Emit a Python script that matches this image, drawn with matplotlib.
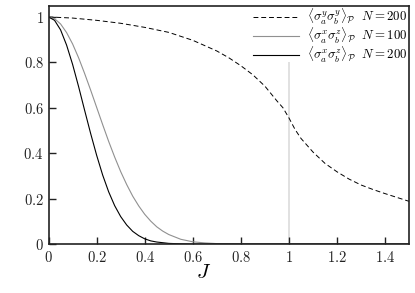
import numpy as np
import matplotlib
matplotlib.use("Agg")
import matplotlib.pyplot as plt
from matplotlib.ticker import FuncFormatter

plt.rcParams["mathtext.fontset"] = "cm"
plt.rcParams["font.family"] = "serif"
plt.rcParams["font.serif"] = ["DejaVu Serif"]

# <sigma^y sigma^y>, N = 200 (dashed)
J_yy = [0.0, 0.1, 0.2, 0.3, 0.4, 0.5, 0.6, 0.7, 0.75, 0.8, 0.85, 0.9, 0.95,
        0.975, 1.0, 1.025, 1.05, 1.1, 1.15, 1.2, 1.25, 1.3, 1.35, 1.4, 1.45, 1.5]
yy_200 = [1.0, 0.995, 0.985, 0.972, 0.954, 0.932, 0.897, 0.850, 0.82, 0.785,
          0.745, 0.695, 0.63, 0.60, 0.555, 0.505, 0.465, 0.405, 0.355, 0.318,
          0.286, 0.26, 0.24, 0.222, 0.205, 0.188]

# <sigma^x sigma^z>, N = 100 (grey)
J_100 = [0.0, 0.025, 0.05, 0.075, 0.1, 0.125, 0.15, 0.175, 0.2, 0.225, 0.25,
         0.275, 0.3, 0.325, 0.35, 0.375, 0.4, 0.425, 0.45, 0.475, 0.5, 0.55,
         0.6, 0.65, 0.7, 0.8, 1.0, 1.5]
xz_100 = [1.0, 0.992, 0.969, 0.931, 0.881, 0.820, 0.751, 0.678, 0.602, 0.526,
          0.452, 0.383, 0.319, 0.262, 0.211, 0.168, 0.131, 0.101, 0.076, 0.057,
          0.042, 0.021, 0.010, 0.005, 0.002, 0.0, 0.0, 0.0]

# <sigma^x sigma^z>, N = 200 (black)
J_200 = [0.0, 0.025, 0.05, 0.075, 0.1, 0.125, 0.15, 0.175, 0.2, 0.225, 0.25,
         0.275, 0.3, 0.325, 0.35, 0.375, 0.4, 0.425, 0.45, 0.5, 0.55, 0.6,
         1.0, 1.5]
xz_200 = [1.0, 0.985, 0.943, 0.876, 0.791, 0.693, 0.589, 0.487, 0.391, 0.304,
          0.230, 0.169, 0.121, 0.084, 0.056, 0.037, 0.023, 0.014, 0.009, 0.003,
          0.001, 0.0, 0.0, 0.0]

vline_x = 1.0
vline_top = 0.8

fig = plt.figure(figsize=(4.15, 2.93), dpi=100)
ax = fig.add_axes([0.117, 0.167, 0.869, 0.814])

ax.vlines(vline_x, 0, vline_top, color="#dcdcdc", lw=1.2, zorder=1)
ax.plot(J_yy, yy_200, color="black", lw=0.7, dashes=(5, 3),
        label=r"$\langle\sigma_a^y\sigma_b^y\rangle_\mathcal{P}\ \ N=200$")
ax.plot(J_100, xz_100, color="#909090", lw=0.8,
        label=r"$\langle\sigma_a^x\sigma_b^z\rangle_\mathcal{P}\ \ N=100$")
ax.plot(J_200, xz_200, color="black", lw=0.8,
        label=r"$\langle\sigma_a^x\sigma_b^z\rangle_\mathcal{P}\ \ N=200$")

ax.set_xlim(0, 1.5)
ax.set_ylim(0, 1.05)
ax.set_xticks(np.arange(0, 1.41, 0.2))
ax.set_yticks(np.arange(0, 1.01, 0.2))

def fmt(v, pos):
    s = ("%.1f" % v).rstrip("0").rstrip(".")
    return "$%s$" % s

ax.xaxis.set_major_formatter(FuncFormatter(fmt))
ax.yaxis.set_major_formatter(FuncFormatter(fmt))
ax.tick_params(direction="in", length=5, width=1, labelsize=10.5, colors="#222222")
ax.tick_params(axis="x", pad=4)
for sp in ax.spines.values():
    sp.set_linewidth(1.2)
    sp.set_color("#222222")

ax.set_xlabel(r"$J$", fontsize=15, va="center")
ax.xaxis.set_label_coords(0.43, -0.118)

ax.legend(loc="upper right", frameon=False, fontsize=9.3, handlelength=3.6,
          borderaxespad=0.0, labelspacing=-0.1, handletextpad=0.6,
          borderpad=0.1)

fig.savefig("out.png", dpi=100)
